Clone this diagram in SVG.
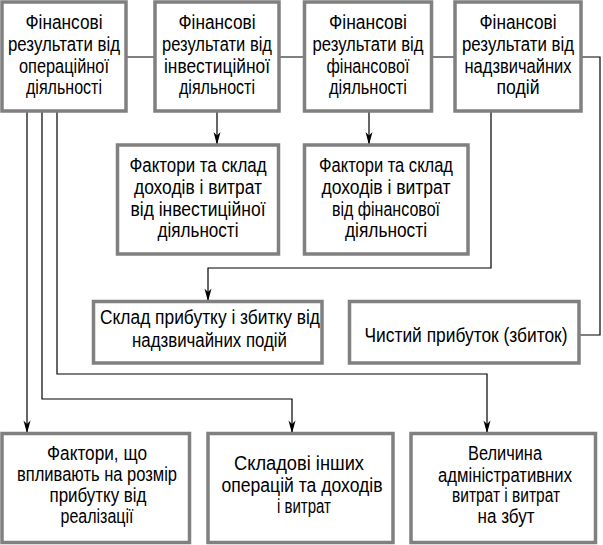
<svg xmlns="http://www.w3.org/2000/svg" width="603" height="545" viewBox="0 0 603 545">
<style>
.box{fill:#fff;stroke:#808080;stroke-width:3.5}
.c{fill:none;stroke:#000;stroke-width:1.2}
.a{marker-end:url(#arr)}
text{font-family:'Liberation Sans Narrow','Liberation Sans',Arial,sans-serif;font-size:20px;fill:#000;text-anchor:middle}
</style>
<defs>
<marker id="arr" markerUnits="userSpaceOnUse" markerWidth="14" markerHeight="8" refX="13" refY="0" orient="auto" overflow="visible">
<path d="M0,-3.5 L13,0 L0,3.5 L3.5,0 Z" fill="#000"/>
</marker>
</defs>
<rect width="603" height="545" fill="#fff"/>
<g id="connectors">
<path class="c" d="M126,57 H600 V335 H579"/>
<path class="c a" d="M217,111 V145"/>
<path class="c a" d="M369,111 V145"/>
<path class="c a" d="M491,111 V268 H208 V301.5"/>
<path class="c a" d="M57,111 V374 H487 V433.5"/>
<path class="c a" d="M42,111 V399 H292 V433.5"/>
<path class="c a" d="M27,111 V433.5"/>
</g>
<g id="n1">
<rect class="box" x="2" y="2" width="124" height="109"/>
<text x="64" y="29" textLength="77" lengthAdjust="spacingAndGlyphs">Фінансові</text>
<text x="64" y="51" textLength="112" lengthAdjust="spacingAndGlyphs">результати від</text>
<text x="64" y="73" textLength="90" lengthAdjust="spacingAndGlyphs">операційної</text>
<text x="64" y="94" textLength="76" lengthAdjust="spacingAndGlyphs">діяльності</text>
</g>
<g id="n2">
<rect class="box" x="155" y="2" width="124" height="109"/>
<text x="217" y="29" textLength="77" lengthAdjust="spacingAndGlyphs">Фінансові</text>
<text x="217" y="51" textLength="110" lengthAdjust="spacingAndGlyphs">результати від</text>
<text x="217" y="73" textLength="106" lengthAdjust="spacingAndGlyphs">інвестиційної</text>
<text x="217" y="94" textLength="76" lengthAdjust="spacingAndGlyphs">діяльності</text>
</g>
<g id="n3">
<rect class="box" x="304.5" y="2" width="127" height="109"/>
<text x="368" y="29" textLength="78" lengthAdjust="spacingAndGlyphs">Фінансові</text>
<text x="368" y="51" textLength="111" lengthAdjust="spacingAndGlyphs">результати від</text>
<text x="368" y="73" textLength="83" lengthAdjust="spacingAndGlyphs">фінансової</text>
<text x="368" y="94" textLength="78" lengthAdjust="spacingAndGlyphs">діяльності</text>
</g>
<g id="n4">
<rect class="box" x="455" y="2" width="126" height="109"/>
<text x="518" y="29" textLength="77" lengthAdjust="spacingAndGlyphs">Фінансові</text>
<text x="518" y="51" textLength="112" lengthAdjust="spacingAndGlyphs">результати від</text>
<text x="518" y="73" textLength="107" lengthAdjust="spacingAndGlyphs">надзвичайних</text>
<text x="518" y="94" textLength="43" lengthAdjust="spacingAndGlyphs">подій</text>
</g>
<g id="n5">
<rect class="box" x="117.5" y="145" width="161" height="109"/>
<text x="198" y="172" textLength="137" lengthAdjust="spacingAndGlyphs">Фактори та склад</text>
<text x="198" y="194" textLength="128" lengthAdjust="spacingAndGlyphs">доходів і витрат</text>
<text x="198" y="216" textLength="135" lengthAdjust="spacingAndGlyphs">від інвестиційної</text>
<text x="198" y="237" textLength="81" lengthAdjust="spacingAndGlyphs">діяльності</text>
</g>
<g id="n6">
<rect class="box" x="304.5" y="145" width="163.5" height="109"/>
<text x="386" y="172" textLength="134" lengthAdjust="spacingAndGlyphs">Фактори та склад</text>
<text x="386" y="194" textLength="129" lengthAdjust="spacingAndGlyphs">доходів і витрат</text>
<text x="386" y="216" textLength="108" lengthAdjust="spacingAndGlyphs">від фінансової</text>
<text x="386" y="237" textLength="82" lengthAdjust="spacingAndGlyphs">діяльності</text>
</g>
<g id="n7">
<rect class="box" x="93.5" y="301.5" width="228.5" height="61.5"/>
<text x="210" y="324" textLength="220" lengthAdjust="spacingAndGlyphs">Склад прибутку і збитку від</text>
<text x="209.5" y="347" textLength="155" lengthAdjust="spacingAndGlyphs">надзвичайних подій</text>
</g>
<g id="n8">
<rect class="box" x="349.5" y="301.5" width="229.5" height="61.5"/>
<text x="466" y="342" textLength="203" lengthAdjust="spacingAndGlyphs">Чистий прибуток (збиток)</text>
</g>
<g id="n9">
<rect class="box" x="2" y="433.5" width="187.5" height="109"/>
<text x="97" y="460" textLength="100" lengthAdjust="spacingAndGlyphs">Фактори,  що</text>
<text x="97" y="481" textLength="160" lengthAdjust="spacingAndGlyphs">впливають на розмір</text>
<text x="98" y="502" textLength="97" lengthAdjust="spacingAndGlyphs">прибутку від</text>
<text x="97" y="523" textLength="73" lengthAdjust="spacingAndGlyphs">реалізації</text>
</g>
<g id="n10">
<rect class="box" x="208" y="433.5" width="185" height="109"/>
<text x="299" y="470" textLength="130" lengthAdjust="spacingAndGlyphs">Складові інших</text>
<text x="302" y="492" textLength="161" lengthAdjust="spacingAndGlyphs">операцій та доходів</text>
<text x="304" y="513" textLength="54" lengthAdjust="spacingAndGlyphs">і витрат</text>
</g>
<g id="n11">
<rect class="box" x="411" y="433.5" width="184.5" height="109"/>
<text x="505" y="460" textLength="74" lengthAdjust="spacingAndGlyphs">Величина</text>
<text x="505" y="482" textLength="134" lengthAdjust="spacingAndGlyphs">адміністративних</text>
<text x="506" y="502" textLength="108" lengthAdjust="spacingAndGlyphs">витрат і витрат</text>
<text x="506" y="523" textLength="57" lengthAdjust="spacingAndGlyphs">на збут</text>
</g>
</svg>
